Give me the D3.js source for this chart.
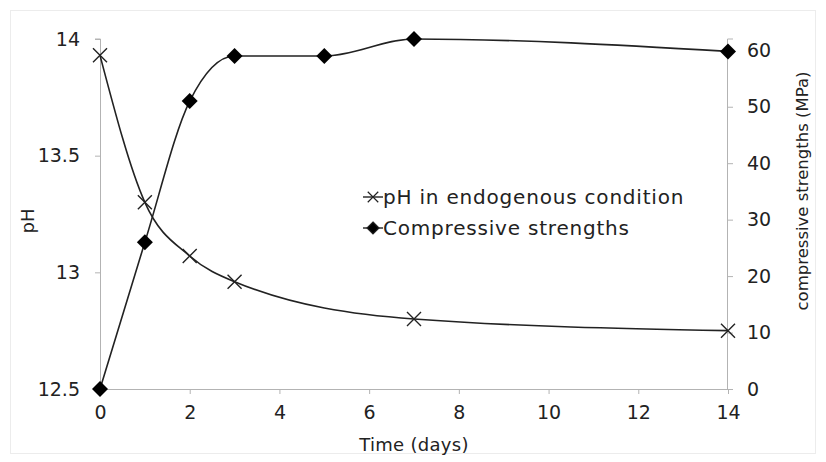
<!DOCTYPE html>
<html>
<head>
<meta charset="utf-8">
<script src="https://cdn.jsdelivr.net/npm/d3@7"></script>
<style>
  body { margin: 0; background: #fff; }
  text { font-family: 'DejaVu Sans', sans-serif; fill: #222; }
</style>
</head>
<body>
<div id="chart"></div>
<script>
// data
const phDays = [0, 1, 2, 3, 7, 14]
const phValues = [13.93, 13.3, 13.07, 12.96, 12.8, 12.75]
const strengthDays = [0, 1, 2, 3, 5, 7, 14]
const strengthValues = [0, 26, 51, 59, 59, 62, 59.8]
const xTicks = [0, 2, 4, 6, 8, 10, 12, 14]
const phTicks = [12.5, 13, 13.5, 14]
const strengthTicks = [0, 10, 20, 30, 40, 50, 60]

const margin = { top: 39, left: 100, right: 98, bottom: 73 }
const width = 826 - margin.left - margin.right
const height = 462 - margin.top - margin.bottom

const root = d3.select('#chart')
  .append('svg')
  .attr('width', 826)
  .attr('height', 462)

// faint frame
root.append('rect')
  .attr('x', 10.5).attr('y', 10.5)
  .attr('width', 805).attr('height', 443)
  .attr('fill', 'none')
  .attr('stroke', '#ececec')

const svg = root.append('g')
  .attr('transform', 'translate(' + margin.left + ',' + margin.top + ')')

const xPositionScale = d3.scaleLinear().domain([0, 14]).range([0, width])
const yPhScale = d3.scaleLinear().domain([12.5, 14]).range([height, 0])
const yStrengthScale = d3.scaleLinear().domain([0, 62]).range([height, 0])

const axisColor = '#b3b3b3'
const tickSize = 19

// axes
const xAxis = svg.append('g')
  .attr('transform', 'translate(0,' + height + ')')
  .call(d3.axisBottom(xPositionScale).tickValues(xTicks).tickSize(5).tickPadding(12))
const leftAxis = svg.append('g')
  .call(d3.axisLeft(yPhScale).tickValues(phTicks).tickSize(5).tickPadding(15).tickFormat(d3.format('')))
const rightAxis = svg.append('g')
  .attr('transform', 'translate(' + width + ',0)')
  .call(d3.axisRight(yStrengthScale).tickValues(strengthTicks).tickSize(5).tickPadding(14))

;[xAxis, leftAxis, rightAxis].forEach(function(ax) {
  ax.select('.domain').attr('stroke', axisColor)
  ax.selectAll('.tick line').attr('stroke', axisColor)
  ax.selectAll('.tick text')
    .attr('fill', '#222')
    .style('font-size', tickSize + 'px')
    .style('font-family', "'DejaVu Sans', sans-serif")
})
leftAxis.select('.domain').attr('d', 'M-5,' + yPhScale(14) + 'H0.5V' + height)
rightAxis.select('.domain').attr('d', 'M5,' + 0 + 'H-0.5V' + height)

// lines
const phPoints = phDays.map((d, i) => ({ day: d, value: phValues[i] }))
const strengthPoints = strengthDays.map((d, i) => ({ day: d, value: strengthValues[i] }))

const phLine = d3.line()
  .x(d => xPositionScale(d.day))
  .y(d => yPhScale(d.value))
  .curve(d3.curveMonotoneX)
const strengthLine = d3.line()
  .x(d => xPositionScale(d.day))
  .y(d => yStrengthScale(d.value))
  .curve(d3.curveMonotoneX)

svg.append('path')
  .datum(phPoints)
  .attr('d', phLine)
  .attr('fill', 'none')
  .attr('stroke', '#222')
  .attr('stroke-width', 1.6)

svg.append('path')
  .datum(strengthPoints)
  .attr('d', strengthLine)
  .attr('fill', 'none')
  .attr('stroke', '#222')
  .attr('stroke-width', 1.6)

const crossPath = 'M-7,-7L7,7M-7,7L7,-7'
const diamondPath = 'M0,-8L8,0L0,8L-8,0Z'

svg.selectAll('.ph-mark')
  .data(phPoints)
  .enter()
  .append('path')
  .attr('class', 'ph-mark')
  .attr('transform', d => 'translate(' + xPositionScale(d.day) + ',' + yPhScale(d.value) + ')')
  .attr('d', crossPath)
  .attr('stroke', '#222')
  .attr('stroke-width', 1.4)
  .attr('fill', 'none')

svg.selectAll('.strength-mark')
  .data(strengthPoints)
  .enter()
  .append('path')
  .attr('class', 'strength-mark')
  .attr('transform', d => 'translate(' + xPositionScale(d.day) + ',' + yStrengthScale(d.value) + ')')
  .attr('d', diamondPath)
  .attr('fill', '#000')

// legend
const legend = svg.append('g').attr('transform', 'translate(263,158)')
const legendItems = [
  { label: 'pH in endogenous condition', mark: crossPath, fill: 'none' },
  { label: 'Compressive strengths', mark: diamondPath, fill: '#000' }
]
legendItems.forEach(function(item, i) {
  const row = legend.append('g').attr('transform', 'translate(0,' + i * 31 + ')')
  row.append('line')
    .attr('x1', 0).attr('x2', 20)
    .attr('stroke', '#222').attr('stroke-width', 1.4)
  row.append('path')
    .attr('transform', 'translate(10,0) scale(0.75)')
    .attr('d', item.mark)
    .attr('fill', item.fill)
    .attr('stroke', '#222')
    .attr('stroke-width', 1.6)
  row.append('text')
    .attr('x', 20)
    .attr('dy', '0.35em')
    .style('font-size', '20px')
    .style('letter-spacing', '0.8px')
    .text(item.label)
})

// axis titles
svg.append('text')
  .attr('x', width / 2)
  .attr('y', height + 62)
  .attr('text-anchor', 'middle')
  .style('font-size', '18px')
  .style('letter-spacing', '0.3px')
  .text('Time (days)')

svg.append('text')
  .attr('transform', 'translate(-66,' + (height / 2 + 7) + ') rotate(-90)')
  .attr('text-anchor', 'middle')
  .style('font-size', '18px')
  .text('pH')

svg.append('text')
  .attr('transform', 'translate(' + (width + 80) + ',' + (height / 2 - 23) + ') rotate(-90)')
  .attr('text-anchor', 'middle')
  .style('font-size', '16.5px')
  .text('compressive strengths  (MPa)')
</script>
</body>
</html>
